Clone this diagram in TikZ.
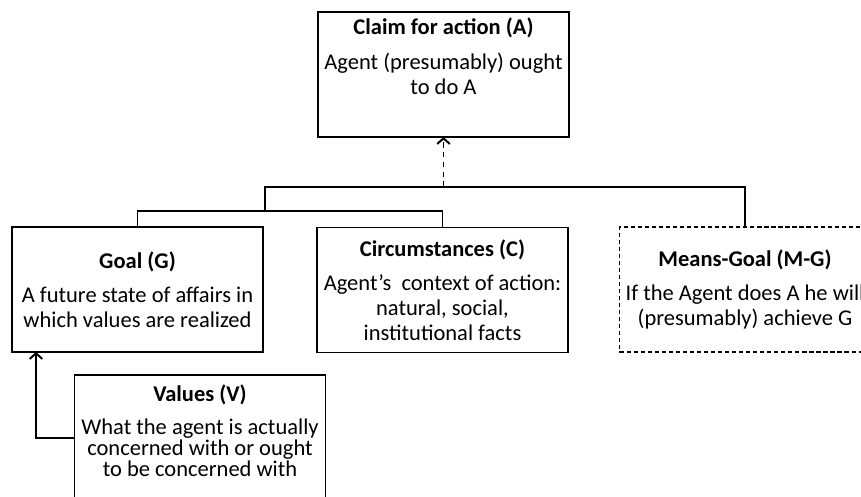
\documentclass[tikz,border=0pt]{standalone}
\usepackage{fontspec}
\setmainfont{Carlito}
\usetikzlibrary{arrows.meta}

\begin{document}
\begin{tikzpicture}[
    x=0.025cm, y=-0.025cm,
    kasten/.style={
      draw,
      rectangle,
      line width=.8pt,
      inner sep=2pt,
      outer sep=0pt,
      align=center,
      font=\fontsize{16}{17.7}\selectfont,
      minimum width=6.275cm,
      minimum height=3.125cm},
    inhalt/.style={
      anchor=north,
      align=center,
      inner sep=0pt,
      font=\fontsize{16}{17.7}\selectfont},
    linie/.style={line width=1.4pt},
    pfeil/.style={line width=1.4pt, -{Straight Barb[length=4pt,width=9pt]}}
    ]

  \useasboundingbox (0,0) rectangle (861,497);
  \clip (0,0) rectangle (861,497);

  \node at (443.5, 74.5) (claim) [kasten] {};
\node at (443.5, 18) (claimtxt) [inhalt] {\textbf{Claim for action (A)}\\[2.4mm] Agent (presumably) ought\\ to do A};
\node at (137.5, 289.5) (goal) [kasten] {\textbf{Goal (G)}\\[2.2mm] A future state of affairs in\\ which values are realized};
\node at (442.5, 290) (circ) [kasten] {\textbf{Circumstances (C)}\\[2.4mm] Agent’s~ context of action:\\ natural, social,\\ institutional facts};
\node at (745, 289.5) (means) [kasten, dash pattern=on 3pt off 2pt] {\textbf{Means-Goal (M-G)}\\[2.2mm] If the Agent does A he will\\ (presumably) achieve G};
\node at (200, 450) (values) [kasten, minimum height=3.75cm] {};
\node at (200, 385) (valuestxt) [inhalt, font=\fontsize{16}{14.9}\selectfont] {\textbf{Values (V)}\\[2.8mm] What the agent is actually\\ concerned with or ought\\ to be concerned with};

  \coordinate (jl) at (265, 211);
\coordinate (jr) at (265, 187);
\coordinate (ja) at (443.5, 187);
\coordinate (vl) at (74, 438);
\coordinate (gin) at (36, 352);

  \draw[linie] (goal.north) |- (jl) -| (circ.north);
\draw[linie] (jl) -- (jr) -| (means.north);
\draw[pfeil, dash pattern=on 4pt off 3pt] (ja) -- (claim.south -| ja);
\draw[pfeil] (vl) -| (gin);

\end{tikzpicture}
\end{document}
